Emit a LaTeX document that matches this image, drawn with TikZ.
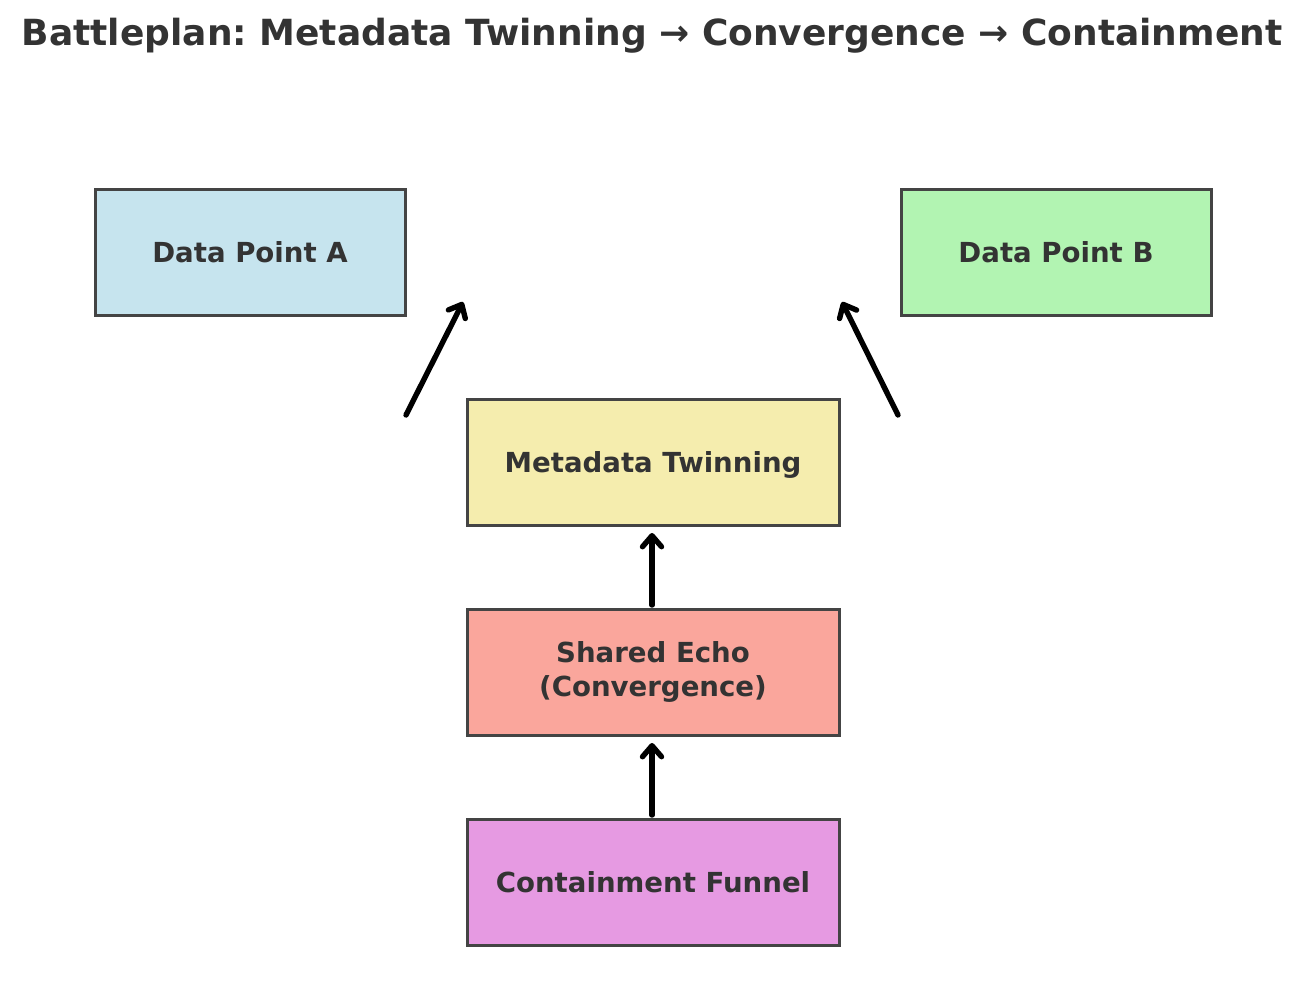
\documentclass[tikz,border=0pt]{standalone}
\usepackage{fontspec}
\setmainfont{DejaVu Sans}
\usetikzlibrary{arrows.meta}
\frenchspacing
\definecolor{txt}{HTML}{333333}
\definecolor{edge}{HTML}{444444}
\definecolor{cA}{HTML}{C6E4EE}
\definecolor{cB}{HTML}{B2F4B2}
\definecolor{cM}{HTML}{F5EDAE}
\definecolor{cS}{HTML}{FAA69C}
\definecolor{cC}{HTML}{E69AE2}
\tikzset{
  box/.style={draw=edge, line width=3pt, minimum width=310pt, minimum height=126pt, inner sep=0pt, text=txt, font=\fontsize{27.6}{33.5}\selectfont\bfseries, align=center},
  single/.style={text depth=0pt},
  wide/.style={minimum width=372pt},
  arr/.style={line width=5.4pt, line cap=round, -{Straight Barb[length=11pt,width=19pt,line width=5.4pt,round]}}
}
\begin{document}
\begin{tikzpicture}[x=1pt,y=-1pt]
\useasboundingbox (0,0) rectangle (1305,1007);
\node[text=txt, font=\fontsize{36}{40}\selectfont\bfseries] (title) at (652,36) {Battleplan: Metadata Twinning → Convergence → Containment};
\node[box, single, fill=cA] (a) at (250,252) {Data Point A};
\node[box, single, fill=cB] (b) at (1056,252) {Data Point B};
\node[box, single, wide, fill=cM] (m) at (653,462) {Metadata Twinning};
\node[box, wide, fill=cS] (s) at (653,672) {Shared Echo\\(Convergence)};
\node[box, single, wide, fill=cC] (c) at (653,882) {Containment Funnel};
\coordinate (a1) at (406,415);
\coordinate (a2) at (463,302);
\coordinate (b1) at (898,415);
\coordinate (b2) at (842,302);
\coordinate (s1) at (652,605);
\coordinate (m1) at (652,533);
\coordinate (c1) at (652,815);
\coordinate (s2) at (652,743);
\draw[arr] (a1) -- (a2);
\draw[arr] (b1) -- (b2);
\draw[arr] (s1) -- (m1);
\draw[arr] (c1) -- (s2);
\end{tikzpicture}
\end{document}
